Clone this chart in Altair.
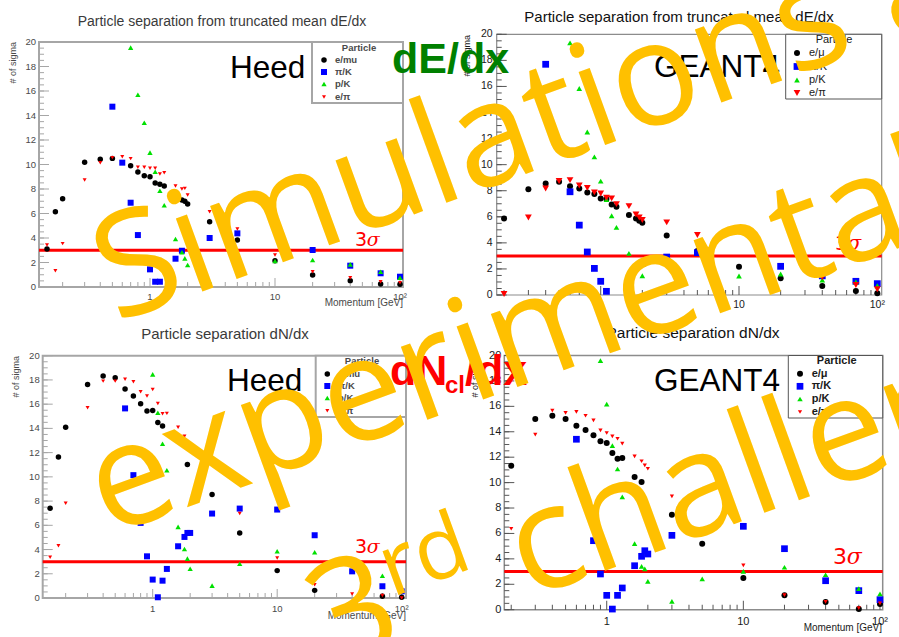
import altair as alt
import pandas as pd

N = None
# ---------------- data ----------------
MOMENTUM = [0.15, 0.175, 0.2, 0.3, 0.4, 0.5, 0.6, 0.7, 0.8, 0.9, 1.0, 1.1, 1.2, 1.3,
            1.6, 1.8, 1.9, 2.0, 3, 5, 10, 20, 40, 70, 100]

HEED_DEDX_EMU = [3.1, 6.15, 7.2, 10.18, 10.42, 10.5, N, 9.9, 9.39, 9.09, 9.0, 8.49, 8.38, 8.24,
                 N, 7.1, 7.0, 6.78, 5.33, 3.84, 2.15, 0.98, 0.52, 0.24, 0.22]
HEED_DEDX_PIK = [N, N, N, N, N, 14.72, 10.15, 6.88, 4.24, N, 1.44, 0.43, 0.43, N,
                 2.31, 2.96, N, N, 4.0, 4.38, N, 3.02, 1.74, 1.12, 0.84]
HEED_DEDX_PK = [N, N, N, N, N, N, N, 19.54, 15.7, 13.41, 10.97, 9.41, 7.86, 6.67,
                3.92, 2.83, 2.34, 1.8, 0.43, N, 2.12, 2.2, 1.85, 1.25, 0.76]
HEED_DEDX_EPI = [3.43, 1.33, 3.54, 8.73, 10.15, 10.56, 10.64, 10.48, 9.77, 9.77, 9.69, 9.69, 9.22, 9.33,
                 8.24, 8.0, 8.05, 7.51, 6.15, 4.73, 2.61, 1.25, 0.76, 0.43, 0.35]

G4_DEDX_EMU = [N, N, 5.87, 8.12, 8.56, 8.68, 8.35, 8.17, 7.87, 7.74, 7.41, 7.36, 6.95, 6.77,
               6.13, 5.87, 5.7, 5.54, 4.57, 3.37, 2.17, 1.28, 0.69, 0.31, 0.13]
G4_DEDX_PIK = [N, N, N, N, 17.7, 11.57, 7.92, 5.36, 3.3, 2.04, 1.05, 0.28, N, N,
               N, N, N, 2.43, 2.91, 3.25, N, 2.2, 1.47, 1.05, 0.87]
G4_DEDX_PK = [N, N, N, N, N, N, 19.34, 15.84, 12.51, 10.6, 8.74, 7.33, 6.08, 5.19,
              3.19, 2.3, N, 1.48, N, N, 1.46, 1.61, 1.15, 1.0, 0.71]
G4_DEDX_EPI = [N, N, 0.08, 5.95, 8.17, 8.75, 8.81, 8.4, 8.22, 7.87, 7.79, 7.46, 7.41, 6.97,
               6.82, 6.18, 5.95, 5.75, 5.57, 4.6, N, N, 1.36, 0.77, 0.44]

HEED_DNDX_EMU = [7.41, 11.63, 14.1, 17.63, 18.32, 18.18, 17.25, 16.67, 16.03, 15.43, 15.48, 14.49, 14.19, N,
                 N, N, 11.02, N, 8.54, 5.37, 2.26, 0.63, N, 0.14, 0.06]
HEED_DNDX_PIK = [N, N, N, N, N, N, 15.65, 10.14, 6.2, 3.44, 1.52, 0.06, 1.43, 2.4,
                 4.27, 5.04, 5.37, 5.37, 6.97, 7.38, 7.3, 5.18, 2.2, 0.97, 0.55]
HEED_DNDX_PK = [N, N, N, N, N, N, N, N, N, N, 18.46, 15.29, 12.73, 10.55,
                5.87, 4.05, 3.25, 2.42, 1.02, 2.83, 3.86, 3.78, N, 1.84, N]
HEED_DNDX_EPI = [3.36, 4.32, 7.82, 15.7, 17.9, 17.9, 18.05, 17.85, 17.02, 16.67, 17.21, 16.06, 15.2, 15.24,
                 14.1, 13.36, 12.75, 12.48, N, 6.97, 3.31, 1.1, 0.33, 0.2, 0.0]

G4_DNDX_EMU = [N, N, 11.33, 15.0, 15.26, 15.0, 14.48, 14.14, 13.72, 13.25, 13.12, 12.33, 11.88, 11.94,
               10.44, 10.05, N, N, 7.47, 5.19, 2.49, 1.13, 0.61, 0.05, 0.45]
G4_DNDX_PIK = [N, N, N, N, N, N, 13.41, 8.87, 5.43, 2.81, 1.13, 0.05, 1.13, 1.71,
               3.46, 4.2, 4.64, 4.38, 5.85, N, 6.56, 4.8, 2.28, 1.5, 0.79]
G4_DNDX_PK = [N, N, N, N, N, N, N, N, N, 19.59, 16.18, 12.9, 11.07, 8.87,
              5.19, 3.41, 3.22, 2.23, 0.66, 2.42, 3.02, 3.34, 2.75, 1.65, 1.24]
G4_DNDX_EPI = [N, N, 6.37, 13.77, 15.66, 15.48, 15.56, 15.26, 14.9, 14.11, 13.9, 13.64, 13.45, 13.06,
               12.07, 11.68, 11.36, 11.09, 8.92, N, 3.49, 1.15, 0.61, 0.13, 0.5]

X_LIMITS = [[0.1294, 105.7], [0.177, 107.6], [0.1308, 108.3], [0.178, 104.7]]
Y_LIMITS = [0, 20]
THRESHOLD = 3
Y_LABELLED = [0, 2, 4, 6, 8, 10, 12, 14, 16, 18, 20]
Y_MINOR = [i * 0.5 for i in range(41)]
X_LABELLED = [1, 10, 100]
X_LABEL_TEXT = ["1", "10", "10²"]
X_MINOR = [0.2, 0.3, 0.4, 0.5, 0.6, 0.7, 0.8, 0.9, 2, 3, 4, 5, 6, 7, 8, 9,
           20, 30, 40, 50, 60, 70, 80, 90]

TITLES = ["Particle separation from truncated mean dE/dx",
          "Particle separation from truncated mean dE/dx",
          "Particle separation dN/dx",
          "Particle separation dN/dx"]
GENERATORS = ["Heed", "GEANT4", "Heed", "GEANT4"]
LEGEND_LABELS = [["e/mu", "π/K", "p/K", "e/π"],
                 ["e/μ", "π/K", "p/K", "e/π"],
                 ["e/mu", "π/K", "p/K", "e/π"],
                 ["e/μ", "π/K", "p/K", "e/π"]]
SERIES = [
    [HEED_DEDX_EMU, HEED_DEDX_PIK, HEED_DEDX_PK, HEED_DEDX_EPI],
    [G4_DEDX_EMU, G4_DEDX_PIK, G4_DEDX_PK, G4_DEDX_EPI],
    [HEED_DNDX_EMU, HEED_DNDX_PIK, HEED_DNDX_PK, HEED_DNDX_EPI],
    [G4_DNDX_EMU, G4_DNDX_PIK, G4_DNDX_PK, G4_DNDX_EPI],
]

# ---------------- style / layout ----------------
W, H = 899, 637
FONT = "Liberation Sans"
SHAPES = ["circle", "square", "triangle-up", "triangle-down"]
COLORS = ["#000000", "#0000ff", "#00e000", "#ff0000"]

LAYOUT = [
    dict(xr=[39, 403], yr=[287, 42], frame="#a6a6a6", fw=2, tc="#4a4a4a", lab=9.5, ypad=3, xpad=4.5,
         sizes=[30, 36, 28, 16], title=(222, 22, 14, "#3a3a3a"), gen=(230, 78),
         leg=dict(box=(312, 403, 42, 103), hx=359, hy=48, mx=324, lx=335, rows=[60, 72, 84, 97],
                  fs=9.5, bold="bold", bc="#a6a6a6", bw=2),
         sig=(355, 246, 19), ytitle=(13, 42), xtitle=(403, 303)),
    dict(xr=[496.7, 881.7], yr=[295, 34.3], frame="#8c8c8c", fw=1.2, tc="#1a1a1a", lab=10.5, ypad=4, xpad=5,
         sizes=[36, 46, 32, 46], title=(679, 17, 15, "#111111"), gen=(654, 77),
         leg=dict(box=(785.7, 881.7, 34.3, 99), hx=834, hy=40, mx=797, lx=809, rows=[53, 66.5, 80, 93],
                  fs=11, bold="normal", bc="#555555", bw=1),
         sig=(835, 250, 20), ytitle=(467, 35), xtitle=None),
    dict(xr=[42.7, 406], yr=[598, 355.7], frame="#a6a6a6", fw=2, tc="#4a4a4a", lab=9.5, ypad=3, xpad=5.5,
         sizes=[30, 36, 28, 16], title=(225, 334, 15, "#3a3a3a"), gen=(227, 391),
         leg=dict(box=(315.7, 406, 355.7, 417), hx=362, hy=361, mx=327.3, lx=338, rows=[374, 386, 398, 410.7],
                  fs=9.5, bold="bold", bc="#a6a6a6", bw=2),
         sig=(355, 553, 19), ytitle=(16, 356), xtitle=(406, 616)),
    dict(xr=[504.3, 882.7], yr=[609.7, 355.5], frame="#8c8c8c", fw=1.5, tc="#1a1a1a", lab=11, ypad=3, xpad=6,
         sizes=[36, 45, 30, 18], title=(693, 333, 15.5, "#111111"), gen=(654, 390.7),
         leg=dict(box=(788.3, 882.7, 355.5, 418), hx=836.7, hy=361, mx=800, lx=811.7, rows=[373.7, 386.3, 399, 412],
                  fs=11, bold="bold", bc="#555555", bw=1),
         sig=(833, 564, 22), ytitle=(475, 356), xtitle=(882, 628)),
]

ONE = pd.DataFrame({"k": [0]})


def text(s, x, y, size, color="#000000", font=FONT, weight="normal", style="normal",
         align="left", baseline="alphabetic", angle=0):
    kw = dict(text=s, fontSize=size, color=color, font=font, fontWeight=weight,
              fontStyle=style, align=align, baseline=baseline)
    if angle:
        kw["angle"] = angle
    return alt.Chart(ONE).mark_text(**kw).encode(x=alt.value(x), y=alt.value(y))


def build_panel(i):
    L = LAYOUT[i]
    xdom = X_LIMITS[i]
    xs = alt.Scale(type="log", domain=xdom, range=L["xr"], nice=False)
    ys = alt.Scale(type="linear", domain=Y_LIMITS, range=L["yr"], nice=False, zero=False)

    def X(field):
        return alt.X(field, type="quantitative", scale=xs, axis=None)

    def Y(field):
        return alt.Y(field, type="quantitative", scale=ys, axis=None)

    layers = []
    frame_df = pd.DataFrame({"x0": [xdom[0]], "x1": [xdom[1]], "y0": [Y_LIMITS[0]], "y1": [Y_LIMITS[1]]})
    layers.append(alt.Chart(frame_df).mark_rect(fillOpacity=0, stroke=L["frame"], strokeWidth=L["fw"]).encode(
        x=X("x0"), x2="x1", y=Y("y0"), y2="y1"))

    tick_col = L["frame"] if i in (0, 2) else "#555555"
    ymin_df = pd.DataFrame({"m": [xdom[0]] * len(Y_MINOR), "s": Y_MINOR})
    ymaj_df = pd.DataFrame({"m": [xdom[0]] * len(Y_LABELLED), "s": Y_LABELLED})
    layers.append(alt.Chart(ymin_df).mark_tick(orient="horizontal", size=5, thickness=1, xOffset=2.5,
                                               color=tick_col, opacity=1).encode(x=X("m"), y=Y("s")))
    layers.append(alt.Chart(ymaj_df).mark_tick(orient="horizontal", size=10, thickness=1, xOffset=5,
                                               color=tick_col, opacity=1).encode(x=X("m"), y=Y("s")))
    xmin_df = pd.DataFrame({"m": X_MINOR, "s": [0] * len(X_MINOR)})
    xmaj_df = pd.DataFrame({"m": X_LABELLED, "s": [0] * len(X_LABELLED)})
    layers.append(alt.Chart(xmin_df).mark_tick(orient="vertical", size=5, thickness=1, yOffset=-2.5,
                                               color=tick_col, opacity=1).encode(x=X("m"), y=Y("s")))
    layers.append(alt.Chart(xmaj_df).mark_tick(orient="vertical", size=9, thickness=1, yOffset=-4.5,
                                               color=tick_col, opacity=1).encode(x=X("m"), y=Y("s")))

    # tick labels (data driven through the panel scales)
    ylab_df = pd.DataFrame({"m": [xdom[0]] * len(Y_LABELLED), "s": Y_LABELLED,
                            "lab": [str(v) for v in Y_LABELLED]})
    layers.append(alt.Chart(ylab_df).mark_text(align="right", baseline="middle", dx=-L["ypad"],
                                               font=FONT, fontSize=L["lab"], color=L["tc"]).encode(
        x=X("m"), y=Y("s"), text="lab:N"))
    xlab_df = pd.DataFrame({"m": X_LABELLED, "s": [0] * len(X_LABELLED), "lab": X_LABEL_TEXT})
    layers.append(alt.Chart(xlab_df).mark_text(align="center", baseline="top", dy=L["xpad"],
                                               font=FONT, fontSize=L["lab"], color=L["tc"]).encode(
        x=X("m"), y=Y("s"), text="lab:N"))

    thr_df = pd.DataFrame({"x0": [xdom[0]], "x1": [xdom[1]], "y": [THRESHOLD]})
    layers.append(alt.Chart(thr_df).mark_rule(color="#ff0000", strokeWidth=3).encode(
        x=X("x0"), x2="x1", y=Y("y")))

    for k in range(4):
        df = pd.DataFrame({"momentum": MOMENTUM, "sigma": SERIES[i][k]}).dropna()
        layers.append(alt.Chart(df).mark_point(shape=SHAPES[k], filled=True, size=L["sizes"][k],
                                               color=COLORS[k], opacity=1, strokeWidth=0).encode(
            x=X("momentum"), y=Y("sigma")))

    tx, ty, tsz, tcol = L["title"]
    layers.append(text(TITLES[i], tx, ty, tsz, color=tcol, align="center", baseline="middle"))
    gx, gy = L["gen"]
    layers.append(text(GENERATORS[i], gx, gy, 31.5))
    sx, sy, ssz = L["sig"]
    layers.append(text("3", sx, sy, ssz, color="#ff0000", font="DejaVu Sans"))
    layers.append(text("σ", sx + ssz * 0.62, sy, ssz, color="#ff0000", font="DejaVu Serif", style="italic"))
    yx, yy = L["ytitle"]
    layers.append(text("# of sigma", yx, yy, 9, color=L["tc"], align="right", baseline="middle", angle=270))
    if L["xtitle"]:
        mx, my = L["xtitle"]
        layers.append(text("Momentum [GeV]", mx, my, 10, color=L["tc"], align="right", baseline="middle"))

    lg = L["leg"]
    bx0, bx1, by0, by1 = lg["box"]
    layers.append(alt.Chart(ONE).mark_rect(fill="#ffffff", stroke=lg["bc"], strokeWidth=lg["bw"]).encode(
        x=alt.value(bx0), x2=alt.value(bx1), y=alt.value(by0), y2=alt.value(by1)))
    layers.append(text("Particle", lg["hx"], lg["hy"], lg["fs"], color=L["tc"], weight=lg["bold"],
                       align="center", baseline="middle"))
    for k in range(4):
        layers.append(alt.Chart(ONE).mark_point(shape=SHAPES[k], filled=True, size=L["sizes"][k],
                                                color=COLORS[k], opacity=1, strokeWidth=0).encode(
            x=alt.value(lg["mx"]), y=alt.value(lg["rows"][k])))
        layers.append(text(LEGEND_LABELS[i][k], lg["lx"], lg["rows"][k], lg["fs"], color=L["tc"],
                           weight=lg["bold"], baseline="middle"))
    return alt.layer(*layers)


panels = [build_panel(i) for i in range(4)]

labels = [
    text("dE/dx", 392, 73, 43, color="#008000", weight="bold"),
    text("dN", 390, 385, 43, color="#ff0000", weight="bold"),
    text("cl", 445, 393, 24, color="#ff0000", weight="bold"),
    text("/dx", 465, 385, 43, color="#ff0000", weight="bold"),
]

ORANGE = "#ffc000"
BANNER_FONT = "Open Sans"
banner = [
    text("Simulations and", 116, 323, 145, color=ORANGE, font=BANNER_FONT, angle=340),
    text("experimental", 108, 536, 145, color=ORANGE, font=BANNER_FONT, angle=340),
    text("3", 330, 671, 145, color=ORANGE, font=BANNER_FONT, angle=340),
    text("rd", 391.6, 597.6, 87, color=ORANGE, font=BANNER_FONT, angle=340),
    text("challenge", 528.3, 598.8, 145, color=ORANGE, font=BANNER_FONT, angle=340),
]

chart = alt.layer(*panels, *labels, *banner).resolve_scale(
    x="independent", y="independent"
).properties(
    width=W, height=H, padding=0, background="#ffffff",
    autosize=alt.AutoSizeParams(type="none"),
).configure_view(stroke=None)

chart.save("out.html", embed_options={"renderer": "svg", "actions": False})
